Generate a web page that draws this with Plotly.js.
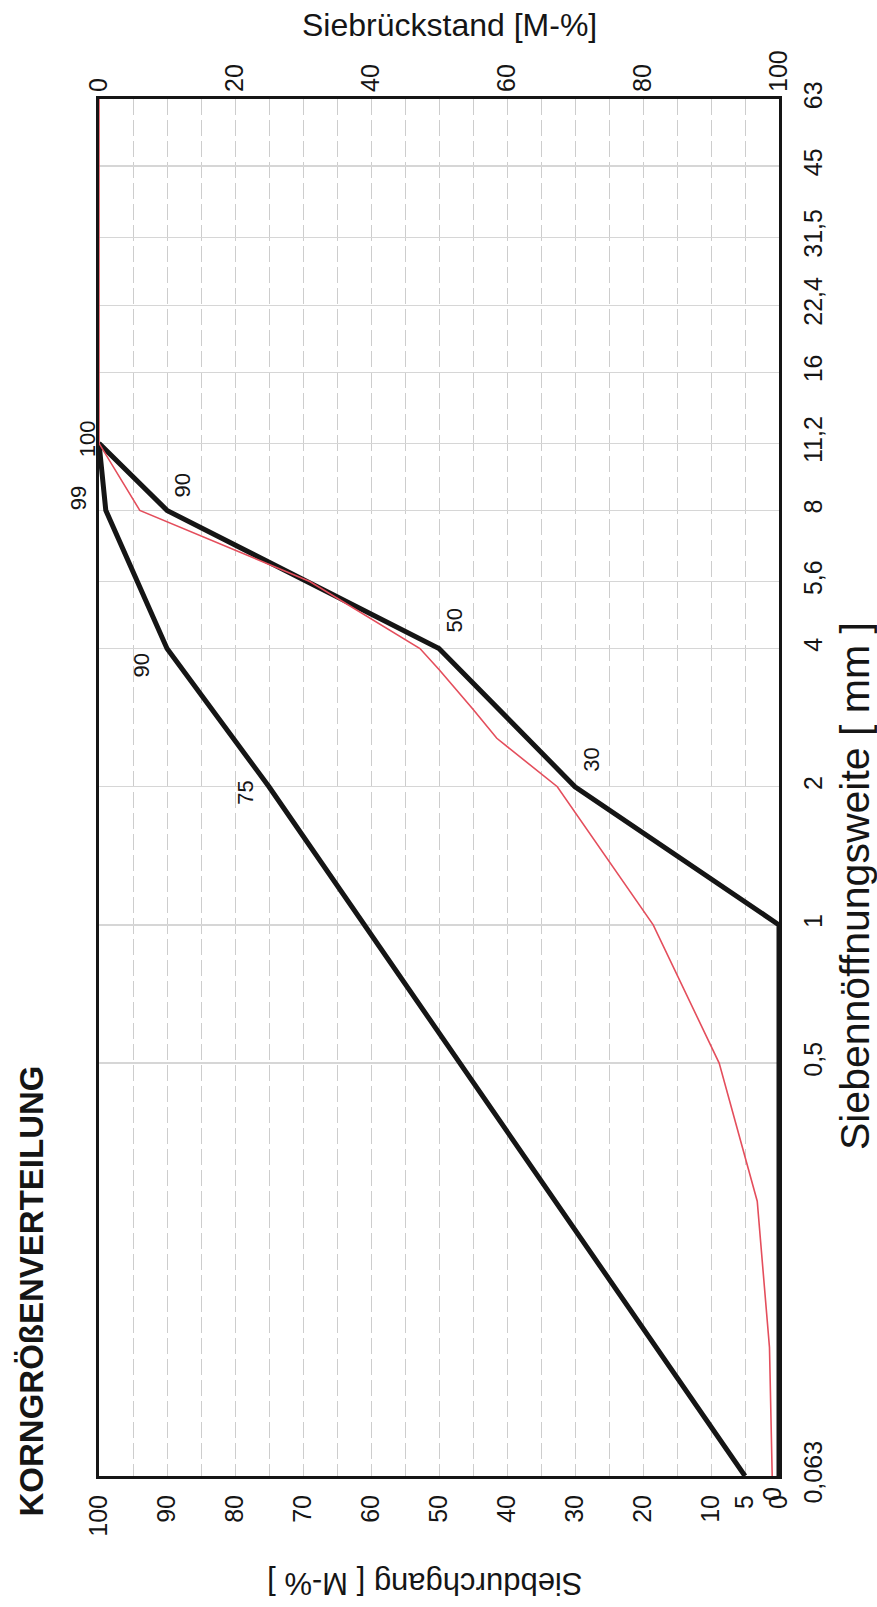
<!DOCTYPE html>
<html>
<head>
<meta charset="utf-8">
<script src="https://cdn.plot.ly/plotly-3.0.1.min.js"></script>
<style>
html,body{margin:0;padding:0;background:#fff;}
#chart{width:877px;height:1607px;}
</style>
</head>
<body>
<div id="chart"></div>
<script>
// ---- data ----
const sieveTickVals = [0.063, 0.5, 1, 2, 4, 5.6, 8, 11.2, 16, 22.4, 31.5, 45, 63];
const sieveTickText = ['0,063', '0,5', '1', '2', '4', '5,6', '8', '11,2', '16', '22,4', '31,5', '45', '63'];
const passTickVals = [100, 90, 80, 70, 60, 50, 40, 30, 20, 10, 5, 0];
const passTickText = ['100', '90', '80', '70', '60', '50', '40', '30', '20', '10', '5', '0'];
const residueTickVals = [0, 20, 40, 60, 80, 100];

// Grenzsieblinien
const limitASizes = [0.063, 2, 4, 8, 11.2];
const limitAPass = [5, 75, 90, 99, 100];
const limitBSizes = [0.063, 1, 2, 4, 8, 11.2];
const limitBPass = [0, 0, 30, 50, 90, 100];

// Probe (rot)
const sampleSizes = [0.063, 0.12, 0.25, 0.5, 1, 2, 2.55, 2.95, 3.6, 4, 5.6, 8, 11.2, 63];
const samplePass = [1.0, 1.4, 3.2, 8.8, 18.5, 32.6, 41.5, 45, 50, 52.8, 69, 94, 100, 100];

const titleText = 'KORNGRÖßENVERTEILUNG';
const xTitle = 'Siebdurchgang [ M-% ]';
const x2Title = 'Siebrückstand [M-%]';
const yTitle = 'Siebennöffnungsweite [ mm ]';

// ---- styles ----
const FONT = 'Liberation Sans, Arial, sans-serif';
const gridCol = '#cdcdcd';
const ink = '#151515';

const traces = [
  {x: samplePass.map(v => 100 - v), y: sampleSizes, xaxis: 'x2', yaxis: 'y', mode: 'lines',
   line: {color: 'rgba(0,0,0,0)', width: 0}, hoverinfo: 'skip', showlegend: false},
  {x: limitAPass, y: limitASizes, mode: 'lines',
   line: {color: ink, width: 5}, showlegend: false},
  {x: limitBPass, y: limitBSizes, mode: 'lines',
   line: {color: ink, width: 5}, showlegend: false},
  {x: samplePass, y: sampleSizes, mode: 'lines',
   line: {color: 'rgb(228,78,92)', width: 1.6}, showlegend: false}
];

// label offsets (pixels) for each point label
const labelOffsetsA = {'2': [-23, -6], '4': [-25, -17], '8': [-27, 12]};
const labelOffsetsB = {'2': [17, 27], '4': [16, 28], '8': [15, 25], '11.2': [-12, 4]};

const annotations = [];
function addLabels(sizes, pass, offsets) {
  sizes.forEach((s, i) => {
    const off = offsets[String(s)];
    if (!off) return;
    annotations.push({x: pass[i], y: Math.log10(s), xref: 'x', yref: 'y', text: String(pass[i]),
      showarrow: false, textangle: -90, xshift: off[0], yshift: off[1],
      xanchor: 'center', yanchor: 'middle',
      font: {family: FONT, size: 22, color: ink}});
  });
}
addLabels(limitASizes, limitAPass, labelOffsetsA);
addLabels(limitBSizes, limitBPass, labelOffsetsB);
// overlapping zero at the bottom
annotations.push({x: limitBPass[0], y: 0, xref: 'x', yref: 'paper', yanchor: 'top', text: String(limitBPass[0]),
  showarrow: false, textangle: -90, xshift: -7, yshift: -9, font: {family: FONT, size: 25, color: ink}});

annotations.push(
  {text: x2Title, xref: 'paper', yref: 'paper', x: 0.516, y: 1.0537, xanchor: 'center', yanchor: 'middle',
   showarrow: false, font: {family: FONT, size: 32, color: ink}},
  {text: yTitle, xref: 'paper', yref: 'paper', x: 1.112, y: 0.4285, xanchor: 'center', yanchor: 'middle',
   showarrow: false, textangle: -90, font: {family: FONT, size: 41, color: ink}},
  {text: xTitle, xref: 'paper', yref: 'paper', x: 0.479, y: -0.0777, xanchor: 'center', yanchor: 'middle',
   showarrow: false, textangle: 180, font: {family: FONT, size: 31, color: ink}},
  {text: '<b>' + titleText + '</b>', xref: 'paper', yref: 'paper', x: -0.1, y: 0.134, xanchor: 'center', yanchor: 'middle',
   showarrow: false, textangle: -90, font: {family: FONT, size: 33, color: ink}}
);

const layout = {
  width: 877, height: 1607,
  margin: {l: 99, r: 98, t: 99, b: 131},
  paper_bgcolor: '#fff', plot_bgcolor: '#fff',
  xaxis: {
    range: [100, 0], tickvals: passTickVals, ticktext: passTickText, tickangle: -90,
    tickfont: {family: FONT, size: 25, color: ink}, ticklabelstandoff: 6,
    showgrid: true, gridcolor: gridCol, griddash: '16px,5px', gridwidth: 1,
    minor: {tick0: 0, dtick: 5, showgrid: true, gridcolor: gridCol, griddash: '16px,5px', gridwidth: 1},
    showline: true, linecolor: ink, linewidth: 3, mirror: true, zeroline: false, ticks: ''
  },
  xaxis2: {
    overlaying: 'x', side: 'top', anchor: 'y', range: [0, 100], tickvals: residueTickVals,
    tickangle: -90, tickfont: {family: FONT, size: 25, color: ink}, ticklabelstandoff: 6,
    showgrid: false, showline: false, zeroline: false, ticks: ''
  },
  yaxis: {
    type: 'log', range: [Math.log10(0.063), Math.log10(63)], side: 'right',
    tickvals: sieveTickVals, ticktext: sieveTickText, tickangle: -90,
    tickfont: {family: FONT, size: 25, color: ink}, ticklabelstandoff: 10,
    showgrid: true, gridcolor: '#d6d6d6', gridwidth: 1.2,
    showline: true, linecolor: ink, linewidth: 3, mirror: true, zeroline: false, ticks: ''
  },
  annotations: annotations,
  showlegend: false
};

Plotly.newPlot('chart', traces, layout, {staticPlot: true, displayModeBar: false});
</script>
</body>
</html>
